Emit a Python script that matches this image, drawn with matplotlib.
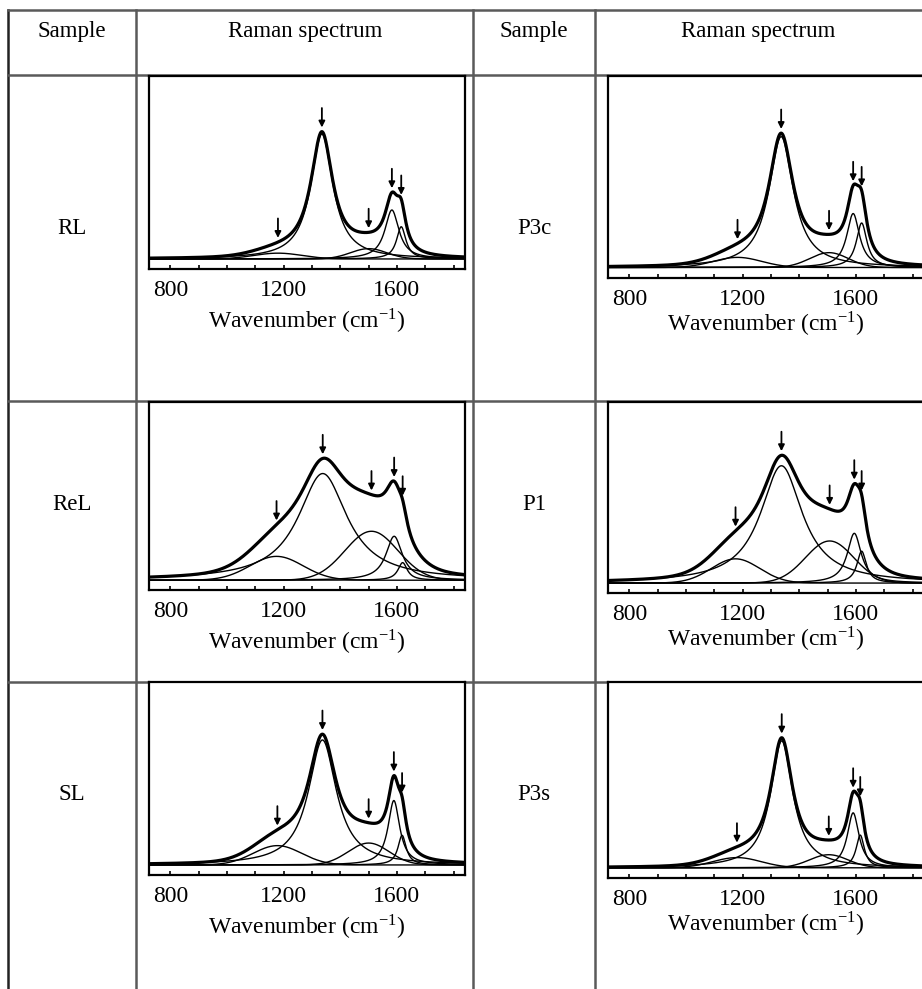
import numpy as np
import matplotlib
matplotlib.use("Agg")
import matplotlib.pyplot as plt
from matplotlib.lines import Line2D

plt.rcParams['font.family'] = ['Liberation Serif', 'DejaVu Serif']
plt.rcParams['mathtext.fontset'] = 'stix'

# ---------------- data ----------------
header_labels = ["Sample", "Raman spectrum", "Sample", "Raman spectrum"]
samples_left = ["RL", "ReL", "SL"]
samples_right = ["P3c", "P1", "P3s"]
band_names = ["D4", "D", "D3", "G", "D2"]
band_shapes = ["gauss", "lorentz", "gauss", "lorentz", "lorentz"]

centers = {
    "RL":  [1180, 1335, 1500, 1582, 1615],
    "P3c": [1182, 1336, 1505, 1590, 1620],
    "ReL": [1175, 1338, 1510, 1590, 1620],
    "P1":  [1175, 1337, 1507, 1594, 1620],
    "SL":  [1178, 1337, 1500, 1589, 1618],
    "P3s": [1180, 1338, 1504, 1590, 1615],
}
heights = {
    "RL":  [0.045, 0.97, 0.08, 0.38, 0.25],
    "P3c": [0.075, 0.97, 0.11, 0.40, 0.33],
    "ReL": [0.19, 0.85, 0.39, 0.35, 0.14],
    "P1":  [0.19, 0.92, 0.33, 0.39, 0.25],
    "SL":  [0.15, 0.97, 0.17, 0.50, 0.23],
    "P3s": [0.078, 0.97, 0.10, 0.42, 0.25],
}
fwhm = {
    "RL":  [200, 95, 150, 60, 40],
    "P3c": [200, 105, 160, 55, 45],
    "ReL": [220, 210, 220, 70, 40],
    "P1":  [200, 180, 200, 60, 40],
    "SL":  [200, 120, 170, 50, 35],
    "P3s": [200, 95, 160, 50, 35],
}
xticks_major = [800, 1200, 1600]
xticks_minor = [800, 900, 1000, 1100, 1200, 1300, 1400, 1500, 1600, 1700, 1800]
x_range = (725, 1840)


def band(x, c, h, w, shape):
    if shape == "lorentz":
        g = w / 2.0
        return h / (1.0 + ((x - c) / g) ** 2)
    s = w / 2.3548
    return h * np.exp(-0.5 * ((x - c) / s) ** 2)


W, H = 922, 989
fig = plt.figure(figsize=(W / 100, H / 100), dpi=100)

# ---------------- table grid ----------------
bg = fig.add_axes([0, 0, 1, 1])
bg.set_xlim(0, W)
bg.set_ylim(H, 0)
bg.axis("off")
line_col = "#5a5a5a"
bg.add_line(Line2D([8, 8], [10, H], color="#222222", lw=1.8))
for xv in [136, 473, 595]:
    bg.add_line(Line2D([xv, xv], [10, H], color=line_col, lw=1.8))
for yv in [10, 75, 401, 682]:
    bg.add_line(Line2D([8, W], [yv, yv], color=line_col, lw=1.8))

col_centers = [72, 305, 534, 758]
for cx, t in zip(col_centers, header_labels):
    bg.text(cx, 32, t, ha="center", va="center", fontsize=16.5)

label_y_left = [228, 505, 795]
label_y_right = [228, 505, 795]
for name, yv in zip(samples_left, label_y_left):
    bg.text(72, yv, name, ha="center", va="center", fontsize=16.5)
for name, yv in zip(samples_right, label_y_right):
    bg.text(534, yv, name, ha="center", va="center", fontsize=16.5)

# ---------------- spectra ----------------
x = np.linspace(x_range[0], x_range[1], 1500)
boxes_left = [(149, 76, 465, 269), (149, 402, 465, 590), (149, 682, 465, 875)]
boxes_right = [(608, 76, 924, 278), (608, 402, 924, 593), (608, 682, 924, 878)]


def draw(name, box, labelpad):
    l, t, r, b = box
    ax = fig.add_axes([l / W, 1 - b / H, (r - l) / W, (b - t) / H])
    comps = [band(x, c, h, w, s) for c, h, w, s in
             zip(centers[name], heights[name], fwhm[name], band_shapes)]
    total = np.sum(comps, axis=0)
    for comp in comps:
        ax.plot(x, comp, color="black", lw=1.0)
    ax.plot(x, total, color="black", lw=2.3)
    for c in centers[name]:
        yc = np.interp(c, x, total)
        ax.annotate("", xy=(c, yc), xytext=(0, 17), textcoords="offset points",
                    xycoords="data",
                    arrowprops=dict(arrowstyle="-|>", color="black", lw=1.3,
                                    mutation_scale=9, shrinkA=0, shrinkB=3))
    ax.set_xlim(*x_range)
    ax.set_ylim(-0.078, 1.42)
    ax.set_xticks(xticks_major)
    ax.set_xticks(xticks_minor, minor=True)
    ax.set_yticks([])
    ax.tick_params(axis="x", which="both", direction="in", length=3, width=1.2,
                   labelsize=17, pad=8, top=False)
    ax.set_xlabel(r"Wavenumber (cm$^{\mathregular{-1}}$)", fontsize=17,
                  labelpad=labelpad)
    for sp in ax.spines.values():
        sp.set_linewidth(1.6)
    return ax


for name, box in zip(samples_left, boxes_left):
    draw(name, box, 4)
for name, box in zip(samples_right, boxes_right):
    draw(name, box, 0)

fig.savefig("out.png", dpi=100)
